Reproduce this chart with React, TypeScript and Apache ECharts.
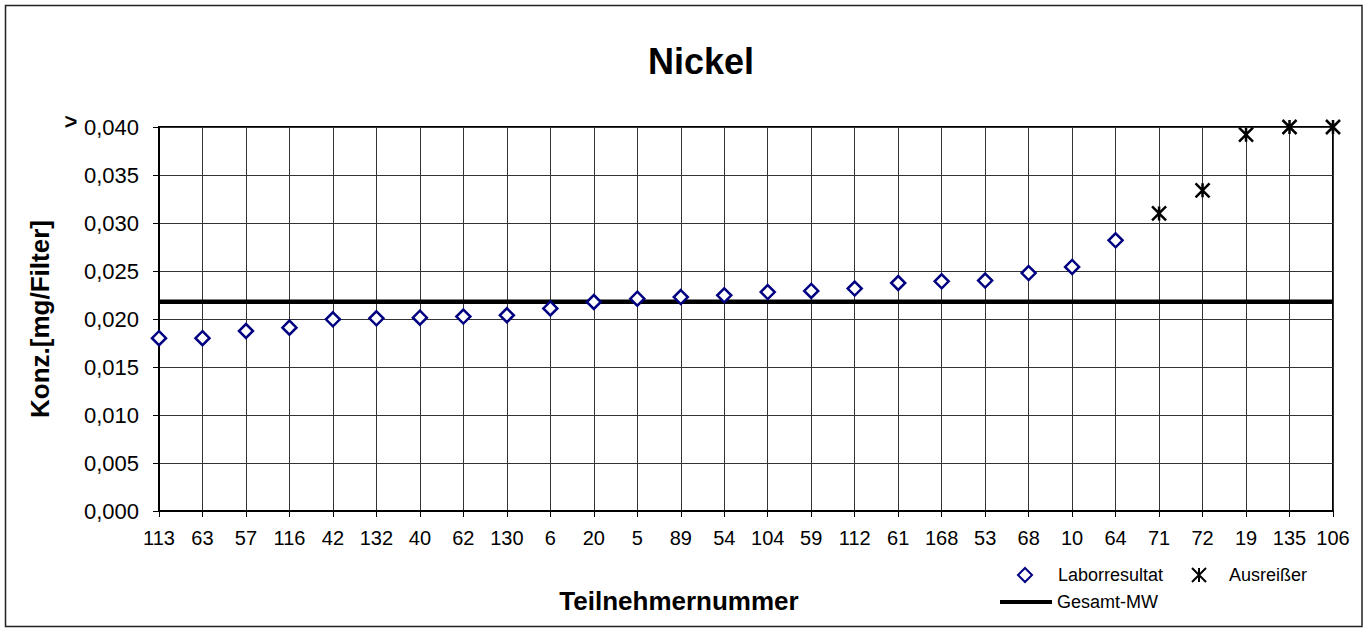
import React, { useEffect, useRef } from "react";
import * as echarts from "echarts";

const categories = ["113", "63", "57", "116", "42", "132", "40", "62", "130", "6", "20", "5", "89", "54", "104", "59", "112", "61", "168", "53", "68", "10", "64", "71", "72", "19", "135", "106"];
const labCategories = ["113", "63", "57", "116", "42", "132", "40", "62", "130", "6", "20", "5", "89", "54", "104", "59", "112", "61", "168", "53", "68", "10", "64"];
const labValues = [0.0180, 0.0180, 0.01875, 0.0191, 0.01997, 0.02007, 0.02014, 0.02025, 0.02039, 0.0211, 0.02177, 0.02212, 0.02229, 0.02247, 0.02281, 0.02292, 0.02317, 0.02375, 0.02393, 0.0240, 0.02479, 0.02542, 0.0282];
const outlierCategories = ["71", "72", "19", "135", "106"];
const outlierValues = [0.0310, 0.0334, 0.0392, 0.0400, 0.0400];
const meanValue = 0.0218;
const meanCategories = ["113", "106"];

const FONT = "Liberation Sans, Arial, sans-serif";
const STAR = "path://M0,0L10,10M10,0L0,10M5,0L5,10";

export default function App() {
  const ref = useRef<HTMLDivElement>(null);
  useEffect(() => {
    if (!ref.current) return;
    const chart = echarts.init(ref.current, undefined, { renderer: "svg" });
    chart.setOption({
      animation: false,
      backgroundColor: "#fff",
      textStyle: { fontFamily: FONT },
      title: [
        {
          text: "Nickel",
          left: 696,
          top: 38,
          textAlign: "center",
          textStyle: { fontSize: 36, fontWeight: "bold", color: "#000", fontFamily: FONT },
        },
        {
          text: "Teilnehmernummer",
          left: 674,
          top: 583,
          textAlign: "center",
          textStyle: { fontSize: 26, fontWeight: "bold", color: "#000", fontFamily: FONT },
        },
      ],
      grid: {
        left: 159,
        right: 36,
        top: 127,
        bottom: 117,
        show: true,
        borderColor: "#000",
        borderWidth: 2,
        containLabel: false,
      },
      legend: [
        {
          data: ["Laborresultat"],
          left: 1017,
          top: 566,
          padding: 0,
          itemWidth: 14,
          itemHeight: 14,
          textStyle: { fontSize: 18, color: "#000", fontFamily: FONT, padding: [0, 0, 0, 21] },
        },
        {
          data: ["Ausreißer"],
          left: 1191,
          top: 566,
          padding: 0,
          itemWidth: 14,
          itemHeight: 14,
          textStyle: { fontSize: 18, color: "#000", fontFamily: FONT, padding: [0, 0, 0, 18] },
        },
        {
          data: [{ name: "Gesamt-MW", icon: "rect" }],
          left: 1000,
          top: 593,
          padding: 0,
          itemWidth: 52,
          itemHeight: 4,
          textStyle: { fontSize: 18, color: "#000", fontFamily: FONT },
        },
      ],
      xAxis: {
        type: "category",
        data: categories,
        boundaryGap: false,
        axisLine: { lineStyle: { color: "#000", width: 2 } },
        axisTick: { show: true, length: 6, interval: 0, lineStyle: { color: "#000", width: 1 } },
        axisLabel: { interval: 0, fontSize: 20, color: "#000", margin: 17, fontFamily: FONT },
        splitLine: { show: true, interval: 0, lineStyle: { color: "#333", width: 1 } },
      },
      yAxis: {
        type: "value",
        min: 0,
        max: 0.04,
        interval: 0.005,
        name: "Konz.[mg/Filter]",
        nameLocation: "middle",
        nameRotate: 90,
        nameGap: 106,
        nameTextStyle: { fontSize: 26, fontWeight: "bold", color: "#000", fontFamily: FONT },
        axisLine: { show: true, lineStyle: { color: "#000", width: 2 } },
        axisTick: { show: true, length: 6, lineStyle: { color: "#000", width: 1 } },
        axisLabel: {
          fontSize: 22,
          color: "#000",
          margin: 20,
          fontFamily: FONT,
          formatter: (v: number) => v.toFixed(3).replace(".", ","),
        },
        splitLine: { show: true, lineStyle: { color: "#333", width: 1 } },
      },
      graphic: [
        {
          type: "rect",
          shape: { x: 5.5, y: 5.5, width: 1356.5, height: 621 },
          style: { fill: "none", stroke: "#222", lineWidth: 1.5 },
          silent: true,
        },
        {
          type: "text",
          x: 71,
          y: 121,
          style: {
            text: ">",
            fontSize: 22,
            fontWeight: "bold",
            fill: "#000",
            fontFamily: FONT,
            align: "center",
            verticalAlign: "middle",
          },
        },
      ],
      series: [
        {
          name: "Gesamt-MW",
          type: "line",
          data: meanCategories.map((c) => [c, meanValue]),
          symbol: "none",
          color: "#000",
          lineStyle: { color: "#000", width: 4.5 },
          z: 3,
        },
        {
          name: "Laborresultat",
          type: "scatter",
          data: labCategories.map((c, i) => [c, labValues[i]]),
          symbol: "diamond",
          symbolSize: 14,
          itemStyle: { color: "#fff", borderColor: "#000080", borderWidth: 2.5, opacity: 1 },
          z: 4,
        },
        {
          name: "Ausreißer",
          type: "scatter",
          data: outlierCategories.map((c, i) => [c, outlierValues[i]]),
          symbol: STAR,
          symbolSize: 14,
          clip: false,
          itemStyle: { color: "#000", borderColor: "#000", borderWidth: 2.5, opacity: 1 },
          z: 4,
        },
      ],
    });
    return () => chart.dispose();
  }, []);
  return (
    <div
      ref={ref}
      style={{ position: "fixed", left: 0, top: 0, width: 1369, height: 628, background: "#fff" }}
    />
  );
}
